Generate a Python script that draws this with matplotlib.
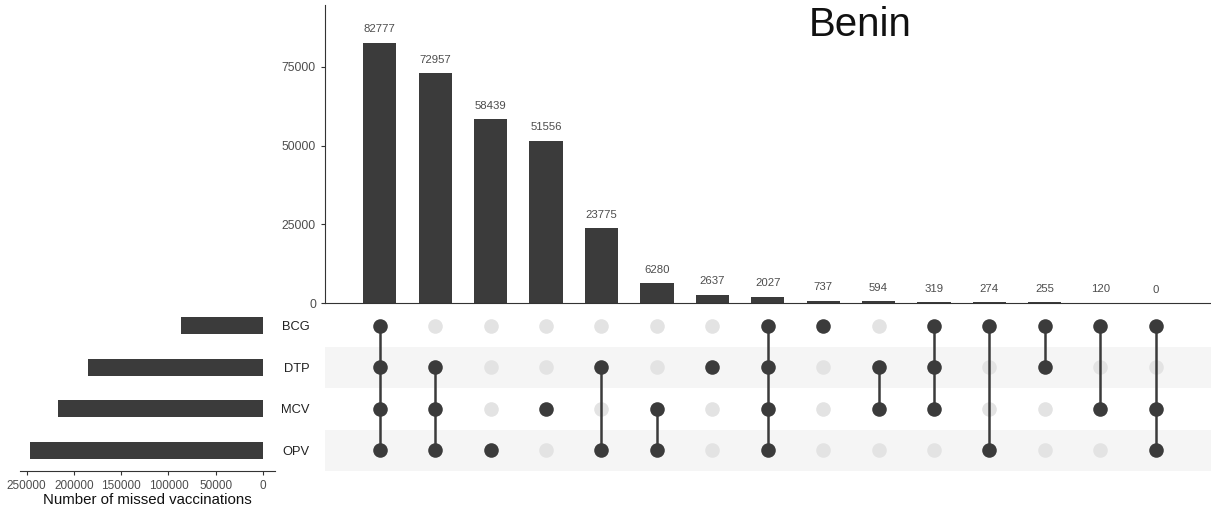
import numpy as np
import matplotlib
matplotlib.use('Agg')
from matplotlib import pyplot as plt
from matplotlib import rcParams

rcParams['font.family'] = ['Liberation Sans', 'DejaVu Sans']

#%% data
sets = ['BCG', 'DTP', 'MCV', 'OPV']
counts = [82777, 72957, 58439, 51556, 23775, 6280, 2637, 2027, 737, 594, 319, 274, 255, 120, 0]
# membership of each intersection (one string per column)
members = ['BCG,DTP,MCV,OPV', 'DTP,MCV,OPV', 'OPV', 'MCV', 'DTP,OPV', 'MCV,OPV', 'DTP',
           'BCG,DTP,MCV,OPV', 'BCG', 'DTP,MCV', 'BCG,DTP,MCV', 'BCG,OPV', 'BCG,DTP',
           'BCG,MCV', 'BCG,MCV,OPV']
set_sizes = [86509, 185341, 216630, 246529]
title = 'Benin'

#%%
dark = '#3b3b3b'
light = '#e3e3e3'
txtc = '#4d4d4d'

fig = plt.figure(figsize=(12.11, 5.12), dpi=100)
ax_bar = fig.add_axes([325/1211, 1-303/512, 886/1211, 298/512])
ax_mat = fig.add_axes([325/1211, 1-471/512, 886/1211, 166/512])
ax_set = fig.add_axes([20/1211, 1-471/512, 255/1211, 166/512])

ncol = len(counts)
xs = np.arange(ncol)
xlim = (-0.99, 15.0)

# intersection bars
ax_bar.bar(xs, counts, width=0.6, color=dark)
for x, c in zip(xs, counts):
    ax_bar.annotate(str(c), (x, c), xytext=(0, 6), textcoords='offset points',
                    ha='center', va='bottom', fontsize=8.2, color=txtc)
ax_bar.set_xlim(xlim)
ax_bar.set_ylim(0, 94700)
ax_bar.set_yticks([0, 25000, 50000, 75000])
ax_bar.set_xticks([])
for s in ['top', 'right']:
    ax_bar.spines[s].set_visible(False)
for s in ['left', 'bottom']:
    ax_bar.spines[s].set_color('#333333')
    ax_bar.spines[s].set_linewidth(0.8)
ax_bar.tick_params(axis='y', labelsize=8.8, colors='#333333', labelcolor=txtc, length=3)

# matrix
nrow = len(sets)
for i in range(nrow):
    if i % 2 == 1:
        ax_mat.axhspan(i-0.5, i+0.5, color='#f5f5f5', zorder=0, lw=0)
for j, m in enumerate(members):
    act = [sets.index(s) for s in m.split(',')]
    for i in range(nrow):
        if i not in act:
            ax_mat.scatter(j, i, s=110, color=light, zorder=1, lw=0)
    if len(act) > 1:
        ax_mat.plot([j, j], [min(act), max(act)], color=dark, lw=1.8, zorder=2)
    ax_mat.scatter([j]*len(act), act, s=110, color=dark, zorder=3, lw=0)
ax_mat.set_xlim(xlim)
ax_mat.set_ylim(nrow-0.5, -0.5)
ax_mat.set_xticks([])
ax_mat.set_yticks(range(nrow))
ax_mat.set_yticklabels(sets)
ax_mat.tick_params(axis='y', length=0, labelsize=9.3, labelcolor='#222222', pad=11)
for s in ax_mat.spines.values():
    s.set_visible(False)

# set sizes
ax_set.barh(range(nrow), set_sizes, height=0.42, color=dark)
ax_set.set_ylim(nrow-0.5, -0.5)
ax_set.set_xlim(257000, -12700)
ax_set.set_xticks([250000, 200000, 150000, 100000, 50000, 0])
ax_set.set_yticks([])
for s in ['top', 'right', 'left']:
    ax_set.spines[s].set_visible(False)
ax_set.spines['bottom'].set_color('#333333')
ax_set.spines['bottom'].set_linewidth(0.8)
ax_set.tick_params(axis='x', labelsize=8.5, colors='#333333', labelcolor=txtc, length=3)
ax_set.set_xlabel('Number of missed vaccinations', fontsize=10.8, color='#111111', labelpad=1)

fig.text(860/1211, 1-25/512, title, fontsize=29, ha='center', va='center', color='#111111')

fig.savefig('out.png', dpi=100)
